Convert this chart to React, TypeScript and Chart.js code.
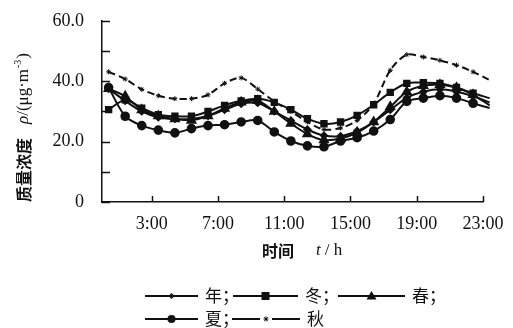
import React, { useEffect, useRef } from "react";
import { Chart, registerables } from "chart.js";

Chart.register(...registerables);

// ---- data ----
const hours = [0, 1, 2, 3, 4, 5, 6, 7, 8, 9, 10, 11, 12, 13, 14, 15, 16, 17, 18, 19, 20, 21, 22, 23];
const xTickHours = [3, 7, 11, 15, 19, 23];
const yTickValues = [0, 10, 20, 30, 40, 50, 60];
const yLabelValues = [0, 20, 40, 60];

const nian = [37.5, 33.5, 30, 28, 27.5, 27.5, 28.5, 30.5, 32.5, 32.8, 30, 27, 24, 22, 21.8, 23.5, 26.5, 30.5, 34.5, 36.5, 37.3, 36.5, 35, 33];
const dong = [30.6, 33.8, 31.1, 28.9, 28.4, 28.4, 30, 32, 33.5, 34.2, 33, 30.6, 27.6, 25.9, 26.5, 28.7, 32.2, 36.3, 39.3, 39.5, 39.3, 37.9, 36, 34.4];
const chun = [37.5, 35, 30.5, 28.5, 27.5, 27, 28.5, 31, 33, 33.5, 30, 26, 22.5, 20.5, 21, 23, 26.5, 31.5, 36.5, 38.5, 38.8, 37.8, 35.5, 32];
const xia = [37.9, 28.4, 25.3, 23.8, 22.9, 24.3, 25.3, 25.6, 26.5, 27, 23.2, 20.2, 18.6, 18.3, 20.2, 21.3, 23.5, 27.3, 33.3, 34.4, 35.2, 34.4, 32.7, 31.1];
const qiu = [43.1, 40.7, 37.3, 35.2, 34.2, 34.2, 35.5, 39.3, 41.1, 37.4, 33.3, 30, 26.5, 24, 24.5, 27, 32.5, 43.6, 48.8, 48, 46.9, 45.3, 43.1, 40.4];

const seriesNames = ["年", "冬", "春", "夏", "秋"];

const POINT_SHIFT = 0.4;
const INK = "#111";
const SERIF = "'Liberation Serif', 'DejaVu Serif', serif";
const CJK = "'Noto Sans CJK SC', sans-serif";

function pts(vals: number[]) {
  return vals.map((v, i) => ({ x: hours[i] + POINT_SHIFT, y: v }));
}

function drawMarker(ctx: CanvasRenderingContext2D, style: string, x: number, y: number, r: number) {
  ctx.save();
  ctx.fillStyle = INK;
  ctx.strokeStyle = INK;
  ctx.beginPath();
  if (style === "rectRot") {
    ctx.moveTo(x, y - r);
    ctx.lineTo(x + r, y);
    ctx.lineTo(x, y + r);
    ctx.lineTo(x - r, y);
    ctx.closePath();
    ctx.fill();
  } else if (style === "rect") {
    ctx.fillRect(x - r, y - r, 2 * r, 2 * r);
  } else if (style === "triangle") {
    ctx.moveTo(x, y - r);
    ctx.lineTo(x + r, y + r * 0.7);
    ctx.lineTo(x - r, y + r * 0.7);
    ctx.closePath();
    ctx.fill();
  } else if (style === "circle") {
    ctx.arc(x, y, r, 0, Math.PI * 2);
    ctx.fill();
  } else if (style === "star") {
    ctx.lineWidth = 1;
    for (let k = 0; k < 4; k++) {
      const a = (k * Math.PI) / 4;
      ctx.moveTo(x - r * Math.cos(a), y - r * Math.sin(a));
      ctx.lineTo(x + r * Math.cos(a), y + r * Math.sin(a));
    }
    ctx.stroke();
  }
  ctx.restore();
}

const decorPlugin = {
  id: "decor",
  afterDraw(chart: any) {
    const { ctx, chartArea, scales } = chart;
    const xs = scales.x;
    const ys = scales.y;
    ctx.save();
    ctx.strokeStyle = INK;
    ctx.lineWidth = 1.5;
    // inward ticks
    yTickValues.forEach((v) => {
      const py = Math.round(ys.getPixelForValue(v)) + 0.5;
      ctx.beginPath();
      ctx.moveTo(chartArea.left, py);
      ctx.lineTo(chartArea.left + 8, py);
      ctx.stroke();
    });
    xTickHours.forEach((h) => {
      const px = Math.round(xs.getPixelForValue(h)) + 0.5;
      ctx.beginPath();
      ctx.moveTo(px, chartArea.bottom);
      ctx.lineTo(px, chartArea.bottom - 6);
      ctx.stroke();
    });

    // x title: 时间  t / h
    ctx.fillStyle = INK;
    ctx.textBaseline = "middle";
    ctx.textAlign = "left";
    let x = 262;
    const ty = 251;
    ctx.font = `bold 16px ${CJK}`;
    ctx.fillText("时间", x, ty);
    x += ctx.measureText("时间").width + 22;
    ctx.font = `italic 17px ${SERIF}`;
    ctx.fillText("t", x, ty);
    x += ctx.measureText("t").width + 4;
    ctx.font = `17px ${SERIF}`;
    ctx.fillText("/ h", x, ty);

    // y title (rotated)
    ctx.save();
    ctx.translate(24, 202);
    ctx.rotate(-Math.PI / 2);
    ctx.textBaseline = "middle";
    let yx = 0;
    ctx.font = `bold 16px ${CJK}`;
    ctx.fillText("质量浓度", yx, 0);
    yx += ctx.measureText("质量浓度").width + 14;
    ctx.font = `italic 17px ${SERIF}`;
    ctx.fillText("ρ", yx, 0);
    yx += ctx.measureText("ρ").width;
    ctx.font = `17px ${SERIF}`;
    ctx.fillText("/(μg·m", yx, 0);
    yx += ctx.measureText("/(μg·m").width + 1;
    ctx.font = `10px ${SERIF}`;
    ctx.fillText("-3", yx, -6);
    yx += ctx.measureText("-3").width + 1;
    ctx.font = `17px ${SERIF}`;
    ctx.fillText(")", yx, 0);
    ctx.restore();

    // legend
    const entries = [
      { row: 0, x0: 145, x1: 198, style: "rectRot", r: 3, dash: false, label: "年；" },
      { row: 0, x0: 233, x1: 298, style: "rect", r: 4, dash: false, label: "冬；" },
      { row: 0, x0: 338, x1: 405, style: "triangle", r: 5, dash: false, label: "春；" },
      { row: 1, x0: 145, x1: 198, style: "circle", r: 4, dash: false, label: "夏；" },
      { row: 1, x0: 232, x1: 300, style: "star", r: 2.5, dash: true, label: "秋" },
    ];
    const rowY = [296, 319];
    entries.forEach((e) => {
      const yy = rowY[e.row];
      ctx.save();
      ctx.strokeStyle = INK;
      ctx.lineWidth = 1.8;
      ctx.beginPath();
      if (e.dash) {
        const mid = (e.x0 + e.x1) / 2;
        ctx.moveTo(e.x0, yy);
        ctx.lineTo(mid - 6, yy);
        ctx.moveTo(mid + 6, yy);
        ctx.lineTo(e.x1, yy);
      } else {
        ctx.moveTo(e.x0, yy);
        ctx.lineTo(e.x1, yy);
      }
      ctx.stroke();
      ctx.restore();
      drawMarker(ctx, e.style, (e.x0 + e.x1) / 2, yy, e.r);
      ctx.font = `17px ${CJK}`;
      ctx.fillStyle = INK;
      ctx.textBaseline = "middle";
      ctx.textAlign = "left";
      ctx.fillText(e.label, e.x1 + 7, yy);
    });
    ctx.restore();
  },
};

export default function App() {
  const canvasRef = useRef<HTMLCanvasElement | null>(null);

  useEffect(() => {
    if (!canvasRef.current) return;
    const common = {
      borderColor: INK,
      backgroundColor: INK,
      pointBackgroundColor: INK,
      pointBorderColor: INK,
      borderWidth: 2,
      fill: false,
      tension: 0.3,
      clip: false as any,
    };
    const chart = new Chart(canvasRef.current, {
      type: "line",
      data: {
        datasets: [
          { ...common, label: seriesNames[0], data: pts(nian), pointStyle: "rectRot", pointRadius: 3 },
          { ...common, label: seriesNames[1], data: pts(dong), pointStyle: "rect", pointRadius: 3.8 },
          { ...common, label: seriesNames[2], data: pts(chun), pointStyle: "triangle", pointRadius: 4.5 },
          { ...common, label: seriesNames[3], data: pts(xia), pointStyle: "circle", pointRadius: 3.8 },
          {
            ...common,
            label: seriesNames[4],
            data: pts(qiu),
            pointStyle: "star",
            pointRadius: 2.5,
            borderDash: [7, 4],
            pointBorderWidth: 1,
          },
        ],
      },
      options: {
        animation: false,
        responsive: true,
        maintainAspectRatio: false,
        layout: { padding: { top: 18, right: 30, left: 0, bottom: 0 } },
        plugins: { legend: { display: false }, tooltip: { enabled: false } },
        scales: {
          x: {
            type: "linear",
            min: 0,
            max: 23,
            grid: { display: false },
            border: { display: true, color: INK, width: 1.5 },
            afterBuildTicks: (scale: any) => {
              scale.ticks = xTickHours.map((v) => ({ value: v }));
            },
            afterFit: (scale: any) => {
              scale.height = 126;
            },
            ticks: {
              autoSkip: false,
              maxRotation: 0,
              padding: 3,
              color: INK,
              font: { family: SERIF, size: 18 },
              callback: (v: any) => `${v}:00`,
            },
          },
          y: {
            type: "linear",
            min: 0,
            max: 60,
            grid: { display: false },
            border: { display: true, color: INK, width: 1.5 },
            afterBuildTicks: (scale: any) => {
              scale.ticks = yLabelValues.map((v) => ({ value: v }));
            },
            afterFit: (scale: any) => {
              scale.width = 102;
            },
            ticks: {
              padding: 10,
              color: INK,
              font: { family: SERIF, size: 18 },
              callback: (v: any) => (v === 0 ? "0" : Number(v).toFixed(1)),
            },
          },
        },
      },
      plugins: [decorPlugin],
    } as any);
    return () => chart.destroy();
  }, []);

  return (
    <div style={{ position: "fixed", left: 0, top: 0, width: 513, height: 328, background: "#fff" }}>
      <canvas ref={canvasRef} />
    </div>
  );
}
